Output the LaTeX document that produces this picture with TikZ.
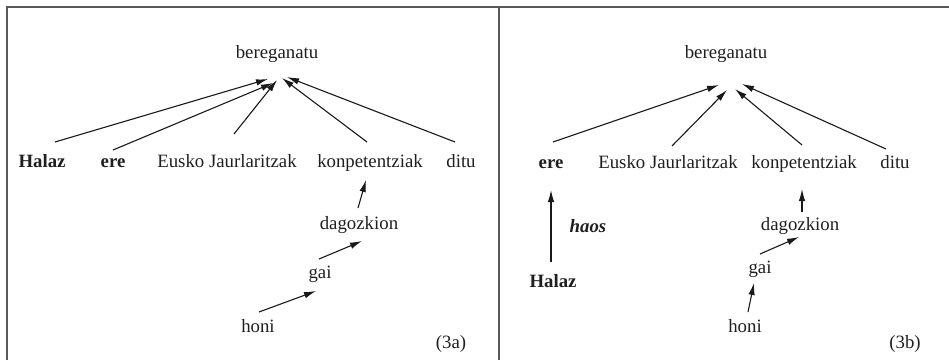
\documentclass[tikz,border=0pt]{standalone}
\usepackage{fontspec}
\setmainfont{Liberation Serif}
\usetikzlibrary{arrows.meta}
\begin{document}
\begin{tikzpicture}[x=1pt,y=1pt,
  word/.style={anchor=base,inner sep=0pt,font=\fontsize{18.8}{20}\selectfont,text=black!88},
  bword/.style={word,font=\fontsize{18.8}{20}\selectfont\bfseries},
  biword/.style={word,font=\fontsize{18.8}{20}\selectfont\bfseries\itshape},
  arr/.style={-{Latex[length=12pt,width=6.5pt]},line width=1.1pt,black!90},
  frameline/.style={line width=2pt,black!65}]
\useasboundingbox (0,0) rectangle (949,360);
% frame of the two panels
\draw[frameline] (6.5,0) -- (6.5,353.5) -- (949,353.5);
\draw[frameline] (499,0) -- (499,353.5);

% ---- panel (3a)
\node[word]  (ber)  at (277,302) {bereganatu};
\node[bword] (hal)  at (42,193)  {Halaz};
\node[bword] (ere)  at (113,193) {ere};
\node[word]  (eus)  at (227,193) {Eusko Jaurlaritzak};
\node[word]  (kon)  at (370,193) {konpetentziak};
\node[word]  (dit)  at (461,193) {ditu};
\node[word]  (dag)  at (359,131) {dagozkion};
\node[word]  (gai)  at (320,82)  {gai};
\node[word]  (hon)  at (258,28)  {honi};
\node[word]  (lbla) at (451,12)  {(3a)};

\draw[arr] ([shift={(13,25)}]hal.base) -- ([shift={(-9,-21)}]ber.base);
\draw[arr] ([shift={(0,17)}]ere.base)  -- ([shift={(-4,-25)}]ber.base);
\draw[arr] ([shift={(7,33)}]eus.base)  -- ([shift={(0,-22)}]ber.base);
\draw[arr] ([shift={(-3,25)}]kon.base) -- ([shift={(5,-20)}]ber.base);
\draw[arr] ([shift={(-6,25)}]dit.base) -- ([shift={(10,-19)}]ber.base);
\draw[arr] ([shift={(-1,21)}]dag.base) -- ([shift={(-4,-13)}]kon.base);
\draw[arr] ([shift={(-1,19)}]gai.base) -- ([shift={(3,-12)}]dag.base);
\draw[arr] ([shift={(1,20)}]hon.base)  -- ([shift={(-4,-13)}]gai.base);

% ---- panel (3b)
\node[word]   (berb) at (726,302) {bereganatu};
\node[bword]  (ereb) at (551,192) {ere};
\node[word]   (eusb) at (668,192) {Eusko Jaurlaritzak};
\node[word]   (konb) at (804,192) {konpetentziak};
\node[word]   (ditb) at (895,192) {ditu};
\node[bword]  (halb) at (553,73)  {Halaz};
\node[biword] (haos) at (588,128) {haos};
\node[word]   (dagb) at (800,130) {dagozkion};
\node[word]   (gaib) at (760,87)  {gai};
\node[word]   (honb) at (745,28)  {honi};
\node[word]   (lblb) at (905,12)  {(3b)};

\draw[arr] ([shift={(2,26)}]ereb.base)  -- ([shift={(-7,-27)}]berb.base);
\draw[arr] ([shift={(4,22)}]eusb.base)  -- ([shift={(1,-32)}]berb.base);
\draw[arr] ([shift={(-2,23)}]konb.base) -- ([shift={(9,-31)}]berb.base);
\draw[arr] ([shift={(-9,19)}]ditb.base) -- ([shift={(16,-26)}]berb.base);
\draw[arr] ([shift={(-2,25)}]halb.base) -- ([shift={(0,-22)}]ereb.base);
\draw[arr] ([shift={(2,18)}]dagb.base)  -- ([shift={(-2,-21)}]konb.base);
\draw[arr] ([shift={(0,19)}]gaib.base)  -- ([shift={(-1,-7)}]dagb.base);
\draw[arr] ([shift={(3,20)}]honb.base)  -- ([shift={(-6,-10)}]gaib.base);
\end{tikzpicture}
\end{document}
